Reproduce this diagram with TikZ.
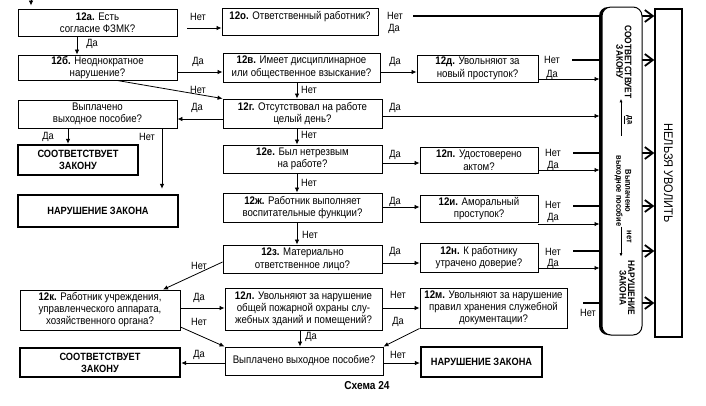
\documentclass[tikz,border=0pt]{standalone}
\usepackage{fontspec}
\setmainfont[FakeStretch=0.88]{Liberation Sans}
\usetikzlibrary{arrows.meta,shadows,backgrounds}
\newcommand\qn[1]{\textbf{#1}}
\newcommand\mybox[7]{%
  \node[#6,minimum width={(#4-#2)*1pt},minimum height={(#5-#3)*1pt}] (#1) at ({(#2+#4)/2},{(#3+#5)/2}) {#7};}
\begin{document}
\begin{tikzpicture}[x=1pt,y=-1pt,
  qbox/.style={draw,line width=0.9pt,fill=white,align=center,inner sep=0pt,font=\fontsize{11}{12.5}\selectfont},
  qbox3/.style={qbox,font=\fontsize{11}{12}\selectfont},
  rbox/.style={draw,line width=2.4pt,fill=white,align=center,inner sep=0pt,font=\bfseries\fontsize{10.5}{12}\selectfont},
  bbox/.style={draw,line width=1.4pt,fill=white,inner sep=0pt},
  colbox/.style={draw,line width=1pt,fill=white,rounded corners=9pt,inner sep=0pt,
     drop shadow={shadow xshift=-3pt,shadow yshift=0pt,opacity=1,fill=black}},
  coltxt/.style={align=center,inner sep=0pt,rotate=-90,font=\bfseries\fontsize{9.5}{8.5}\selectfont},
  coltxts/.style={align=center,inner sep=0pt,rotate=-90,font=\bfseries\fontsize{8.5}{9}\selectfont},
  lab/.style={inner sep=0pt,font=\fontsize{10.5}{12}\selectfont},
  arr/.style={-{Latex[length=5pt,width=4.5pt]},line width=0.8pt},
  smallarr/.style={-{Latex[length=3.5pt,width=3pt]},line width=0.7pt},
  banline/.style={-{Straight Barb[length=8pt,width=12pt,line width=1.8pt]},line width=2pt}
]
\useasboundingbox (0,0) rectangle (706,405);

% question boxes
\mybox{a}{18}{9}{177}{36}{qbox}{\qn{12а.} Есть\\согласие ФЗМК?}
\mybox{o}{222}{8}{378}{35}{qbox}{\qn{12о.} Ответственный работник?\\~}
\mybox{b}{18}{55}{177}{80}{qbox}{\qn{12б.} Неоднократное\\нарушение?}
\mybox{v}{223}{53}{380}{82}{qbox}{\qn{12в.} Имеет дисциплинарное\\или общественное взыскание?}
\mybox{d}{417}{55}{538}{82}{qbox}{\qn{12д.} Увольняют за\\новый проступок?}
\mybox{g}{223}{99}{382}{128}{qbox}{\qn{12г.} Отсутствовал на работе\\целый день?}
\mybox{p1}{18}{100}{177}{128}{qbox}{Выплачено\\выходное пособие?}
\mybox{s1}{18}{145}{138}{175}{rbox}{СООТВЕТСТВУЕТ\\ЗАКОНУ}
\mybox{n1}{18}{195}{178}{227}{rbox}{НАРУШЕНИЕ ЗАКОНА}
\mybox{e}{223}{145}{382}{173}{qbox}{\qn{12е.} Был нетрезвым\\на работе?}
\mybox{pp}{420}{147}{538}{173}{qbox}{\qn{12п.} Удостоверено\\актом?}
\mybox{zh}{223}{193}{382}{222}{qbox}{\qn{12ж.} Работник выполняет\\воспитательные функции?}
\mybox{i}{420}{195}{538}{222}{qbox}{\qn{12и.} Аморальный\\проступок?}
\mybox{z}{223}{245}{382}{273}{qbox}{\qn{12з.} Материально\\ответственное лицо?}
\mybox{nn}{420}{243}{538}{272}{qbox}{\qn{12н.} К работнику\\утрачено доверие?}
\mybox{k}{20}{290}{180}{330}{qbox3}{\qn{12к.} Работник учреждения,\\управленческого аппарата,\\хозяйственного органа?}
\mybox{l}{225}{288}{382}{330}{qbox3}{\qn{12л.} Увольняют за нарушение\\общей пожарной охраны слу-\\жебных зданий и помещений?}
\mybox{m}{420}{288}{567}{328}{qbox3}{\qn{12м.} Увольняют за нарушение\\правил хранения служебной\\документации?}
\mybox{p2}{225}{347}{383}{375}{qbox}{Выплачено выходное пособие?}
\mybox{s2}{20}{348}{180}{377}{rbox}{СООТВЕТСТВУЕТ\\ЗАКОНУ}
\mybox{n2}{421}{347}{542}{377}{rbox}{НАРУШЕНИЕ ЗАКОНА}

% right side
\mybox{ban}{655}{9}{682}{337}{bbox}{}
\node[rotate=-90,inner sep=0pt,font=\fontsize{12.5}{13}\selectfont] (bantext) at (ban.center) {НЕЛЬЗЯ УВОЛИТЬ};

% thick "Нет" lines to НЕЛЬЗЯ УВОЛИТЬ (behind column)
\begin{pgfonlayer}{background}
\draw[banline,shorten <=35pt] (o.east |- 0,16) -- (ban.west |- 0,16);
\draw[banline,shorten <=34pt] (d.east |- 0,60) -- (ban.west |- 0,60);
\draw[banline,shorten <=35pt] (pp.east |- 0,153) -- (ban.west |- 0,153);
\draw[banline,shorten <=35pt] (i.east |- 0,206) -- (ban.west |- 0,206);
\draw[banline,shorten <=35pt] (nn.east |- 0,251) -- (ban.west |- 0,251);
\draw[banline,shorten <=16pt] (m.east |- 0,303) -- (ban.west |- 0,303);
\end{pgfonlayer}

\mybox{col}{602}{7}{642}{335}{colbox}{}
\node[coltxt] (colA) at (624,62) {СООТВЕТСТВУЕТ\\ЗАКОНУ};
\node[coltxts] (colB) at (623,191) {Выплачено\\выходное пособие};
\node[coltxt] (colC) at (627,288) {НАРУШЕНИЕ\\ЗАКОНА};
\node[coltxts] (colda) at (628,120) {\underline{да}};
\node[coltxts] (colnet) at (629,237) {нет};
\draw[smallarr,shorten <=20pt] (colB.west -| 621,0) -- (colA.east -| 621,0);
\draw[smallarr,shorten >=4pt] (colB.east -| 621,0) -- (colC.west -| 621,0);

% top entry arrow
\coordinate (start) at (31,0);
\draw[arr,shorten >=3pt] (start) -- (a.north -| start);

% connectors
\draw[arr,shorten <=10pt] (a.east |- 0,28) -- (o.west |- 0,28);
\node[lab] (t1) at (198,17) {Нет};
\draw[arr] (a.south -| 77,0) -- (b.north -| 77,0);
\node[lab] (t2) at (92,44) {Да};
\draw[arr] (b.east |- 0,72) -- (v.west |- 0,72);
\node[lab] (t3) at (198,62) {Да};
\draw[arr] (b.south -| 117,0) -- (g.north west);
\node[lab] (t4) at (198,90) {Нет};
\draw[arr] (v.south -| 297,0) -- (g.north -| 297,0);
\node[lab] (t5) at (309,90) {Нет};
\draw[arr] (v.east |- 0,72) -- (d.west |- 0,72);
\node[lab] (t6) at (395,62) {Да};
\node[lab] (t7) at (395,16) {Нет};
\node[lab] (t8) at (394,29) {Да};
\node[lab] (t9) at (552,60) {Нет};
\node[lab] (t10) at (552,75) {Да};
\draw[arr,shorten >=2pt] (d.east |- 0,79) -- (col.west |- 0,79);

\draw[arr,shorten >=2pt] (g.east |- 0,116) -- (col.west |- 0,116);
\node[lab] (t11) at (395,108) {Да};
\draw[arr] (g.west |- 0,119) -- (p1.east |- 0,119);
\node[lab] (t12) at (197,108) {Да};
\draw[arr] (g.south -| 297,0) -- (e.north -| 297,0);
\node[lab] (t13) at (309,135) {Нет};

\draw[arr] (p1.south -| 68,0) -- (s1.north -| 68,0);
\node[lab] (t14) at (48,137) {Да};
\draw[arr,shorten >=5pt] (p1.south -| 162,0) -- (n1.north -| 162,0);
\node[lab] (t15) at (147,137) {Нет};

\draw[arr] (e.east |- 0,163) -- (pp.west |- 0,163);
\node[lab] (t16) at (395,155) {Да};
\node[lab] (t17) at (553,153) {Нет};
\node[lab] (t18) at (553,166) {Да};
\draw[arr,shorten >=2pt] (pp.east |- 0,170) -- (col.west |- 0,170);
\draw[arr] (e.south -| 297,0) -- (zh.north -| 297,0);
\node[lab] (t19) at (309,183) {Нет};

\draw[arr] (zh.east |- 0,207) -- (i.west |- 0,207);
\node[lab] (t20) at (395,202) {Да};
\node[lab] (t21) at (553,205) {Нет};
\node[lab] (t22) at (553,218) {Да};
\draw[arr,shorten >=2pt] (i.east |- 0,224) -- (col.west |- 0,224);
\draw[arr] (zh.south -| 297,0) -- (z.north -| 297,0);
\node[lab] (t23) at (310,235) {Нет};

\draw[arr] (z.east |- 0,263) -- (nn.west |- 0,263);
\node[lab] (t24) at (395,252) {Да};
\node[lab] (t25) at (553,252) {Нет};
\node[lab] (t26) at (553,264) {Да};
\draw[arr,shorten >=2pt] (nn.east |- 0,268) -- (col.west |- 0,268);
\draw[arr] (z.west |- 0,262) -- (k.north -| 163,0);
\node[lab] (t27) at (199,266) {Нет};

\draw[arr] (k.east |- 0,308) -- (l.west |- 0,308);
\node[lab] (t28) at (199,298) {Да};
\draw[arr] (k.east |- 0,327) -- (p2.north west);
\node[lab] (t29) at (199,322) {Нет};
\draw[arr] (l.east |- 0,308) -- (m.west |- 0,308);
\node[lab] (t30) at (398,295) {Нет};
\draw[arr] (l.south -| 300,0) -- (p2.north -| 300,0);
\node[lab] (t31) at (311,337) {Да};
\draw[arr] (m.south west) -- (p2.north east);
\node[lab] (t32) at (398,322) {Да};
\node[lab] (t33) at (588,313) {Нет};

\draw[arr] (p2.west |- 0,363) -- (s2.east |- 0,363);
\node[lab] (t34) at (199,355) {Да};
\draw[arr] (p2.east |- 0,363) -- (n2.west |- 0,363);
\node[lab] (t35) at (398,355) {Нет};

\node[inner sep=0pt,font=\bfseries\fontsize{11.5}{12}\selectfont] (cap) at (367,386) {Схема 24};
\end{tikzpicture}
\end{document}
